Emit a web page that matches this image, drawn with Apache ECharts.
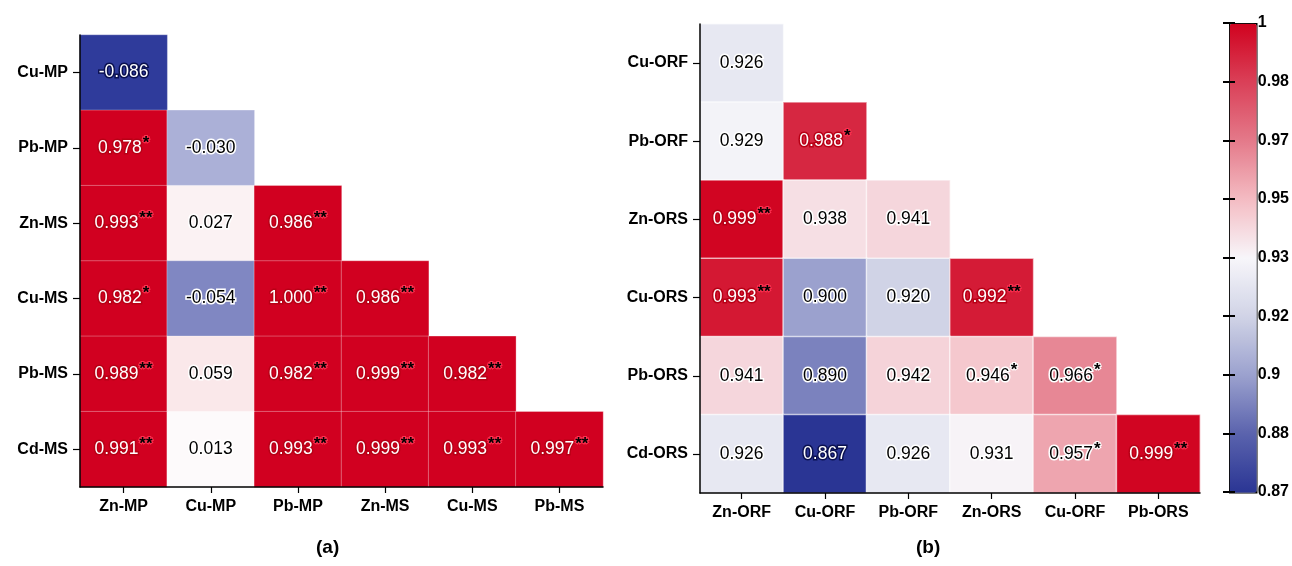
<!DOCTYPE html>
<html>
<head>
<meta charset="utf-8">
<script src="https://cdn.jsdelivr.net/npm/echarts@6/dist/echarts.min.js"></script>
<style>html,body{margin:0;padding:0;background:#fff}#c{width:1292px;height:566px}</style>
</head>
<body>
<div id="c"></div>
<script>
// ---------- Panel (a) ----------
const aRows = ['Cu-MP', 'Pb-MP', 'Zn-MS', 'Cu-MS', 'Pb-MS', 'Cd-MS'];
const aCols = ['Zn-MP', 'Cu-MP', 'Pb-MP', 'Zn-MS', 'Cu-MS', 'Pb-MS'];
const aValues = [
  [-0.086],
  [0.978, -0.030],
  [0.993, 0.027, 0.986],
  [0.982, -0.054, 1.000, 0.986],
  [0.989, 0.059, 0.982, 0.999, 0.982],
  [0.991, 0.013, 0.993, 0.999, 0.993, 0.997]
];
const aStars = [
  [''],
  ['*', ''],
  ['**', '', '**'],
  ['*', '', '**', '**'],
  ['**', '', '**', '**', '**'],
  ['**', '', '**', '**', '**', '**']
];

// ---------- Panel (b) ----------
const bRows = ['Cu-ORF', 'Pb-ORF', 'Zn-ORS', 'Cu-ORS', 'Pb-ORS', 'Cd-ORS'];
const bCols = ['Zn-ORF', 'Cu-ORF', 'Pb-ORF', 'Zn-ORS', 'Cu-ORF', 'Pb-ORS'];
const bValues = [
  [0.926],
  [0.929, 0.988],
  [0.999, 0.938, 0.941],
  [0.993, 0.900, 0.920, 0.992],
  [0.941, 0.890, 0.942, 0.946, 0.966],
  [0.926, 0.867, 0.926, 0.931, 0.957, 0.999]
];
const bStars = [
  [''],
  ['', '*'],
  ['**', '', ''],
  ['**', '', '', '**'],
  ['', '', '', '*', '*'],
  ['', '', '', '', '*', '**']
];

// colour bar tick labels (equally spaced on the bar)
const barTicks = [0.87, 0.88, 0.9, 0.92, 0.93, 0.95, 0.97, 0.98, 1];
const barColors = ['#2a3594', '#5a63ad', '#9ba1ce', '#d0d3e6', '#f7f6fa', '#f4bcc3', '#e47a8a', '#da4058', '#d0021f'];

function toBarPos(v) {
  if (v <= barTicks[0]) return 0;
  for (let i = 1; i < barTicks.length; i++) {
    if (v <= barTicks[i]) {
      return (i - 1) + (v - barTicks[i - 1]) / (barTicks[i] - barTicks[i - 1]);
    }
  }
  return barTicks.length - 1;
}

const aData = [];
aValues.forEach((row, r) => row.forEach((v, c) => aData.push([c, r, v, aStars[r][c]])));
const bData = [];
bValues.forEach((row, r) => row.forEach((v, c) => bData.push([c, r, toBarPos(v), v, bStars[r][c]])));

const FONT = '"Liberation Sans", Arial, sans-serif';

function cellLabel(v, star, style) {
  return '{' + style + '|' + v.toFixed(3) + '}' + (star ? '{' + style + 's|' + star + '}' : '');
}
const starBase = {color: '#000', fontSize: 17, fontWeight: 'bold', fontFamily: FONT, padding: [0, 0, 10, 1]};
const rich = {
  w: {color: '#fff', fontSize: 17.5, fontFamily: FONT, textBorderColor: '#b80016', textBorderWidth: 3},
  ws: Object.assign({}, starBase, {textBorderColor: '#ff3050', textBorderWidth: 2}),
  d: {color: '#fff', fontSize: 17.5, fontFamily: FONT, textBorderColor: '#0a1050', textBorderWidth: 3},
  ds: Object.assign({}, starBase),
  k: {color: '#000', fontSize: 17.5, fontFamily: FONT, textBorderColor: '#fff', textBorderWidth: 3},
  ks: Object.assign({}, starBase, {textBorderColor: '#fff', textBorderWidth: 2})
};

function axisCommonX(data) {
  return {
    type: 'category', data: data, position: 'bottom', z: 10,
    axisLine: {show: true, lineStyle: {color: '#000', width: 1.5}},
    axisTick: {show: true, alignWithLabel: true, length: 6, lineStyle: {color: '#000', width: 1.2}},
    axisLabel: {color: '#000', fontSize: 16, fontWeight: 'bold', fontFamily: FONT, margin: 12, interval: 0},
    splitLine: {show: false}
  };
}
function axisCommonY(data) {
  return {
    type: 'category', data: data, inverse: true, z: 10,
    axisLine: {show: true, lineStyle: {color: '#000', width: 1.5}},
    axisTick: {show: true, alignWithLabel: true, length: 7, lineStyle: {color: '#000', width: 1.2}},
    axisLabel: {color: '#000', fontSize: 16, fontWeight: 'bold', fontFamily: FONT, margin: 12, interval: 0},
    splitLine: {show: false}
  };
}

const chart = echarts.init(document.getElementById('c'), null, {renderer: 'canvas'});
chart.setOption({
  backgroundColor: '#fff',
  animation: false,
  title: [
    {text: '(a)', left: 311, top: 533, textStyle: {fontSize: 19, fontWeight: 'bold', fontFamily: FONT, color: '#000'}},
    {text: '(b)', left: 911, top: 533, textStyle: {fontSize: 19, fontWeight: 'bold', fontFamily: FONT, color: '#000'}}
  ],
  grid: [
    {left: 80, top: 35, width: 523, height: 452},
    {left: 700, top: 24, width: 500, height: 469},
    {left: 1229, top: 23, width: 27, height: 469}
  ],
  xAxis: [
    Object.assign(axisCommonX(aCols), {gridIndex: 0}),
    Object.assign(axisCommonX(bCols), {gridIndex: 1}),
    {gridIndex: 2, type: 'value', show: false, min: 0, max: 1}
  ],
  yAxis: [
    Object.assign(axisCommonY(aRows), {gridIndex: 0}),
    Object.assign(axisCommonY(bRows), {gridIndex: 1}),
    {
      gridIndex: 2, type: 'value', position: 'right', min: 0, max: barTicks.length - 1, interval: 1, z: 10,
      axisLine: {show: false},
      axisTick: {show: true, inside: true, length: 6, lineStyle: {color: '#000', width: 2}},
      axisLabel: {color: '#000', fontSize: 16, fontWeight: 'bold', fontFamily: FONT, margin: 6,
        formatter: (val) => String(barTicks[Math.round(val)])},
      splitLine: {show: false}
    },
    {
      gridIndex: 2, type: 'value', position: 'left', min: 0, max: barTicks.length - 1, interval: 1, z: 10,
      axisLine: {show: false},
      axisTick: {show: true, inside: true, length: 6, lineStyle: {color: '#000', width: 2}},
      axisLabel: {show: false},
      splitLine: {show: false}
    }
  ],
  visualMap: [
    {
      type: 'piecewise', show: false, seriesIndex: 0, dimension: 2,
      pieces: [
        {lt: -0.07, color: '#2f3b9b'},
        {gte: -0.07, lt: -0.04, color: '#8087c2'},
        {gte: -0.04, lt: 0, color: '#abb0d7'},
        {gte: 0, lt: 0.02, color: '#fdfafb'},
        {gte: 0.02, lt: 0.04, color: '#fbf2f3'},
        {gte: 0.04, lt: 0.5, color: '#fae8ea'},
        {gte: 0.5, color: '#d10020'}
      ]
    },
    {
      type: 'continuous', show: true, seriesIndex: [1], dimension: 2,
      min: 0, max: barTicks.length - 1, calculable: false, realtime: false,
      left: 1229, top: 23, itemWidth: 27, itemHeight: 469, padding: 0,
      borderColor: '#000', borderWidth: 1.5,
      text: null, showLabel: false,
      inRange: {color: barColors}
    }
  ],
  series: [
    {
      type: 'heatmap', xAxisIndex: 0, yAxisIndex: 0, data: aData,
      itemStyle: {borderColor: 'rgba(255,255,255,0.3)', borderWidth: 1},
      label: {
        show: true, rich: rich,
        formatter: (p) => {
          const v = p.data[2];
          const st = v > 0.5 ? 'w' : (v < -0.07 ? 'd' : 'k');
          return cellLabel(v, p.data[3], st);
        }
      },
      emphasis: {disabled: true}
    },
    {
      type: 'heatmap', xAxisIndex: 1, yAxisIndex: 1, data: bData,
      itemStyle: {borderColor: 'rgba(255,255,255,0.6)', borderWidth: 1.5},
      label: {
        show: true, rich: rich,
        formatter: (p) => {
          const v = p.data[3];
          const st = v >= 0.98 ? 'w' : (v < 0.88 ? 'd' : 'k');
          return cellLabel(v, p.data[4], st);
        }
      },
      emphasis: {disabled: true}
    }
  ]
});
</script>
</body>
</html>
